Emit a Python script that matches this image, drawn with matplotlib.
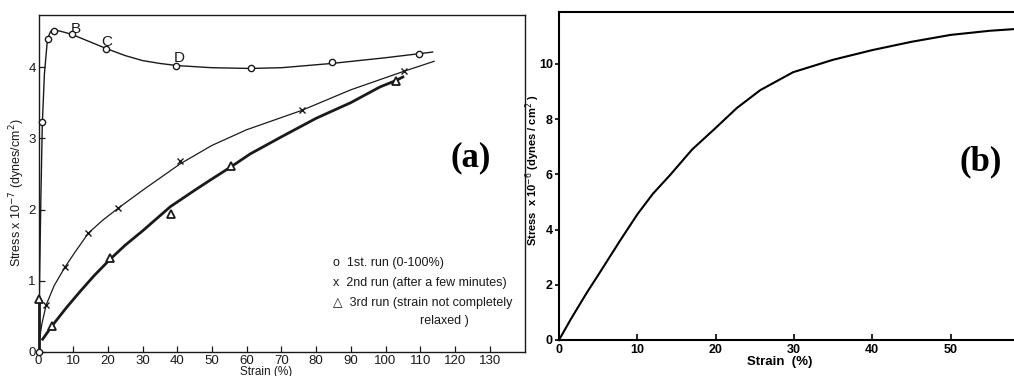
import numpy as np
import matplotlib
matplotlib.use("Agg")
import matplotlib.pyplot as plt

# ---- panel (a) data : strain (%) / stress x 1e-7 (dynes/cm2)
run1_x = [0, 1.1, 2.6, 4.5, 9.6, 19.5, 39.5, 61.1, 84.5, 109.7]
run1_y = [0, 3.23, 4.40, 4.51, 4.46, 4.25, 4.02, 3.98, 4.07, 4.18]
run1_curve_x = [0, 0.3, 0.7, 1.1, 1.7, 2.6, 3.5, 4.7, 6.5, 9.5, 14, 19.5, 25, 30, 35, 40,
                50, 61, 70, 84.5, 100, 113.6]
run1_curve_y = [0, 1.0, 2.2, 3.2, 3.9, 4.4, 4.5, 4.52, 4.5, 4.46, 4.37, 4.26, 4.16, 4.09,
                4.05, 4.02, 3.99, 3.98, 3.99, 4.05, 4.13, 4.21]

run2_x = [2.2, 7.6, 14.4, 23.0, 40.8, 75.8, 105.3]
run2_y = [0.66, 1.19, 1.67, 2.02, 2.68, 3.39, 3.94]
run2_curve_x = [0.2, 1, 2.2, 4.5, 7.6, 10.5, 14.4, 18.5, 23, 30, 40.8, 50, 60, 75.8, 90,
                105.3, 114]
run2_curve_y = [0.15, 0.4, 0.66, 0.93, 1.19, 1.4, 1.67, 1.85, 2.02, 2.27, 2.64, 2.9, 3.12,
                3.39, 3.68, 3.94, 4.08]

run3_x = [0, 3.8, 20.6, 38.1, 55.5, 103.0]
run3_y = [0.75, 0.36, 1.32, 1.93, 2.61, 3.80]
run3_curve_x = [1.2, 3.8, 8, 12, 16, 20.6, 25, 30, 38, 45, 49.4, 55.5, 61, 70, 80, 90,
                98.4, 103, 105]
run3_curve_y = [0.18, 0.36, 0.62, 0.85, 1.07, 1.3, 1.5, 1.7, 2.04, 2.27, 2.41, 2.6, 2.78,
                3.02, 3.28, 3.5, 3.72, 3.81, 3.86]
run3_axis_x = [0, 0]
run3_axis_y = [0, 0.75]

letters = ["B", "C", "D"]
letters_x = [10.8, 19.7, 40.5]
letters_y = [4.53, 4.35, 4.13]

a_xticks = list(range(0, 140, 10))
a_yticks = [0, 1, 2, 3, 4]

legend_lines = ["o  1st. run (0-100%)",
                "x  2nd run (after a few minutes)",
                "\u25b3  3rd run (strain not completely",
                "relaxed )"]

# ---- panel (b) data : strain (%) / stress x 1e-6 (dynes/cm2)
b_x = [0, 1.5, 3.5, 5, 7.8, 10, 12, 14.2, 17, 20, 22.7, 25.7, 29.9, 35, 40, 45, 50, 55, 58.1]
b_y = [0, 0.75, 1.69, 2.35, 3.6, 4.55, 5.3, 5.98, 6.9, 7.68, 8.4, 9.05, 9.7, 10.15, 10.5,
       10.8, 11.05, 11.2, 11.26]
b_xticks = [0, 10, 20, 30, 40, 50]
b_yticks = [0, 2, 4, 6, 8, 10]

W, H = 1014, 376


def box(l, t, r, b):
    return [l / W, 1 - b / H, (r - l) / W, (b - t) / H]


sans = ["Liberation Sans", "DejaVu Sans"]
serif = ["Liberation Serif", "DejaVu Serif"]

fig = plt.figure(figsize=(W / 100, H / 100), dpi=100)

# ================= panel (a)
ax = fig.add_axes(box(38.5, 15, 525, 352))
ax.set_xlim(0, 140.2)
ax.set_ylim(0, 4.73)
ink = "#1a1a1a"

ax.plot(run1_curve_x, run1_curve_y, color=ink, lw=1.0, zorder=2)
ax.plot(run2_curve_x, run2_curve_y, color=ink, lw=0.9, zorder=2)
ax.plot(run3_curve_x, run3_curve_y, color=ink, lw=2.0, zorder=2)
ax.plot(run3_axis_x, run3_axis_y, color=ink, lw=2.0, clip_on=False, zorder=3)

ax.plot(run1_x, run1_y, "o", ms=4.5, mfc="white", mec=ink, mew=1.0, clip_on=False, zorder=4)
ax.plot(run2_x, run2_y, "x", ms=4.5, color=ink, mew=1.0, zorder=4)
ax.plot(run3_x, run3_y, "^", ms=6, mfc="white", mec=ink, mew=1.3, clip_on=False, zorder=4)

for s, x, y in zip(letters, letters_x, letters_y):
    ax.text(x, y, s, fontsize=11, family=sans, color=ink, ha="center", va="center")

ax.set_xticks(a_xticks)
ax.set_yticks(a_yticks)
ax.tick_params(direction="in", length=4, width=0.9, colors=ink, labelsize=9.5, pad=2)
for lab in ax.get_xticklabels() + ax.get_yticklabels():
    lab.set_family(sans)
for sp in ax.spines.values():
    sp.set_linewidth(1.0)
    sp.set_color(ink)

ly = [263, 283, 303, 321]
lx = [333, 333, 333, 420]
for t, x, y in zip(legend_lines, lx, ly):
    fig.text(x / W, 1 - y / H, t, fontsize=9, family=sans, color=ink, va="center")

fig.text(17 / W, 1 - 193 / H, "Stress x 10$^{-7}$ (dynes/cm$^{2}$)", rotation=90,
         fontsize=9, family=sans, color=ink, ha="center", va="center")
fig.text(266 / W, 1 - 372 / H, "Strain (%)", fontsize=8.5, family=sans, color=ink,
         ha="center", va="center")
fig.text(471 / W, 1 - 158 / H, "(a)", fontsize=25, family=serif, weight="bold",
         ha="center", va="center")

# ================= panel (b)
bx = fig.add_axes(box(559, 12, 1014, 340))
bx.set_xlim(0, 58.1)
bx.set_ylim(0, 11.88)
bx.plot(b_x, b_y, color="black", lw=1.5, clip_on=False)
bx.set_xticks(b_xticks)
bx.set_yticks(b_yticks)
bx.tick_params(axis="x", direction="in", length=4, width=1.2, labelsize=9, pad=3)
bx.tick_params(axis="y", direction="out", length=3, width=1.2, labelsize=9, pad=1.5)
for lab in bx.get_xticklabels() + bx.get_yticklabels():
    lab.set_family(sans)
    lab.set_weight("bold")
for sp in bx.spines.values():
    sp.set_linewidth(1.5)
bx.spines["right"].set_visible(False)

fig.text(533 / W, 1 - 170 / H, "Stress  x 10$^{-6}$ (dynes / cm$^{2}$ )", rotation=90,
         fontsize=8, family=sans, weight="bold", ha="center", va="center")
fig.text(780 / W, 1 - 362 / H, "Strain  (%)", fontsize=9.5, family=sans, weight="bold",
         ha="center", va="center")
fig.text(981 / W, 1 - 162 / H, "(b)", fontsize=25, family=serif, weight="bold",
         ha="center", va="center")

fig.savefig("out.png", dpi=100)
